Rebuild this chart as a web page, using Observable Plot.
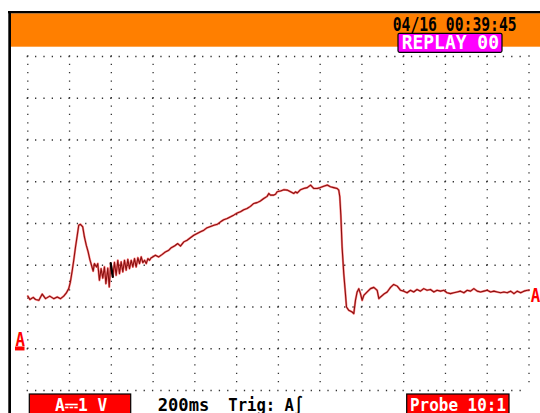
<!DOCTYPE html>
<html><head><meta charset="utf-8">
<script src="https://cdn.jsdelivr.net/npm/d3@7"></script>
<script src="https://cdn.jsdelivr.net/npm/@observablehq/plot@0.6"></script>
<style>html,body{margin:0;padding:0;background:#fff;overflow:hidden} svg{display:block}</style>
</head><body><div id="chart"></div>
<script>
// ---- Data (time in ms, voltage in V; 200 ms/div, 1 V/div) ----
const preT  = [0,10,26,37,53,69,85,105,124,141,157,172,185];
const preV  = [1.26,1.18,1.23,1.18,1.16,1.31,1.20,1.26,1.20,1.24,1.20,1.26,1.34];
const bumpT = [196,204,213,220,228,237,244,252,263,271,280,289,297,305,313];
const bumpV = [1.44,1.60,1.88,2.12,2.42,2.72,2.96,2.98,2.92,2.68,2.48,2.32,2.14,2.00,1.86];
const ringT = [319,329,335,343,351,359,367,374,383,390,397,407,415,423,431,439,447,455,463,471,479,487,495,503,511,519,527,535,543,551,559,567,575,583,591,599];
const ringV = [2.04,1.96,2.04,1.64,1.92,1.69,1.96,1.56,1.93,1.48,2.05,1.72,2.07,1.76,2.12,1.80,2.08,1.84,2.12,1.88,2.14,1.92,2.12,1.96,2.16,1.96,2.18,2.04,2.20,2.06,2.12,2.04,2.16,2.12,2.18,2.20];
const rampT = [611,627,644,659,675,687,702,718,731,747,763,779,795,811,827,843,859,875,891,907,923,938,955,971,986,1003,1018,1034,1050,1066,1082,1098,1114,1130,1146,1154,1162,1178,1186,1194,1210,1226,1242,1258,1274,1282,1290,1306,1321,1338,1354,1369,1386,1401,1417,1434,1449,1465,1481,1489];
const rampV = [2.24,2.20,2.26,2.32,2.36,2.42,2.46,2.52,2.46,2.56,2.60,2.66,2.72,2.76,2.80,2.84,2.90,2.93,2.96,2.98,3.04,3.09,3.12,3.16,3.20,3.25,3.28,3.33,3.36,3.41,3.48,3.50,3.54,3.60,3.65,3.72,3.68,3.68,3.70,3.76,3.78,3.81,3.80,3.76,3.72,3.76,3.73,3.81,3.84,3.86,3.92,3.84,3.84,3.86,3.89,3.92,3.88,3.86,3.84,3.80];
const dropT = [1494,1499,1505,1513,1521,1526,1537,1553,1561,1569,1577,1585,1593,1601,1609,1625,1641,1657,1673,1681,1689,1705,1721,1737,1752,1769,1785];
const dropV = [3.64,3.20,2.44,1.80,1.32,1.00,0.92,0.88,0.84,1.16,1.36,1.44,1.32,1.16,1.28,1.36,1.44,1.47,1.40,1.20,1.24,1.31,1.36,1.47,1.54,1.50,1.40];
const tailT = [1800,1816,1832,1848,1864,1880,1896,1912,1928,1944,1960,1976,1992,2008,2024,2040,2056,2072,2088,2104,2120,2136,2152,2168,2184,2200,2216,2232,2248,2264,2280,2296,2312,2328,2344,2360,2376,2392,2400];
const tailV = [1.38,1.34,1.40,1.36,1.42,1.38,1.44,1.40,1.42,1.36,1.40,1.38,1.40,1.34,1.32,1.34,1.36,1.38,1.34,1.40,1.38,1.44,1.38,1.36,1.38,1.40,1.36,1.38,1.36,1.34,1.36,1.34,1.38,1.32,1.38,1.34,1.38,1.40,1.40];
const triggerSpan = [397, 407];           // ms, trigger point drawn black
const timeTicks = [0,200,400,600,800,1000,1200,1400,1600,1800,2000,2200,2400];
const voltTicks = [-1,0,1,2,3,4,5,6,7];
const headerDate = "04/16 00:39:45";
const replayLabel = "REPLAY 00";
const rangeLabel = "A\u23931 V";
const timebaseLabel = "200ms";
const trigLabel = "Trig: A\u222B";
const probeLabel = "Probe 10:1";
const channelLabel = "A";

// ---- Build table ----
const segs = [[preT,preV],[bumpT,bumpV],[ringT,ringV],[rampT,rampV],[dropT,dropV],[tailT,tailV]];
const trace = segs.flatMap(([T,V]) => T.map((t,i) => ({t, v: V[i]})));
const trig = trace.filter(d => d.t >= triggerSpan[0] && d.t <= triggerSpan[1]);

const W = 540, H = 413;
const mL = 27.3, mR = 11.5, mT = 56, mB = 23;
const minorX = (W - mL - mR) / 60, minorY = (H - mT - mB) / 40;
const FONT = "DejaVu Sans Mono";

const chart = Plot.plot({
  width: W, height: H,
  marginLeft: mL, marginRight: mR, marginTop: mT, marginBottom: mB,
  x: {domain: [0, 2400], axis: null},
  y: {domain: [-1, 7], axis: null},
  style: {background: "white", overflow: "visible"},
  marks: [
    Plot.gridX(timeTicks, {stroke: "#333", strokeOpacity: 1, strokeWidth: 1.3, strokeDasharray: `0 ${minorY}`, strokeLinecap: "square"}),
    Plot.gridY(voltTicks, {stroke: "#333", strokeOpacity: 1, strokeWidth: 1.3, strokeDasharray: `0 ${minorX}`, strokeLinecap: "square"}),
    Plot.line(trace, {x: "t", y: "v", stroke: "#ff2020", strokeWidth: 2.2, strokeOpacity: 0.55}),
    Plot.line(trace, {x: "t", y: "v", stroke: "#8a1010", strokeWidth: 1.1}),
    Plot.line(trig, {x: "t", y: "v", stroke: "black", strokeWidth: 2.2}),
    Plot.text([trace[trace.length - 1]], {x: "t", y: "v", text: () => channelLabel, fill: "#ff0000", fontFamily: FONT, fontWeight: "bold", fontSize: 19, textAnchor: "start", lineAnchor: "bottom", dx: 1.8, dy: 11.5}),
    Plot.text([0], {y: d => d, frameAnchor: "left", text: () => channelLabel, fill: "#ff0000", fontFamily: FONT, fontWeight: "bold", fontSize: 19.5, textAnchor: "start", lineAnchor: "bottom", dx: -12.3, dy: -2.5})
  ]
});

document.getElementById("chart").appendChild(chart);
const svg = d3.select(chart);
// compress channel markers
svg.selectAll("text").filter(function(){ return this.textContent === channelLabel; })
  .attr("text-anchor", "start").attr("textLength", 9.5).attr("lengthAdjust", "spacingAndGlyphs");

// ground bar under left marker at 0 V
const y0 = chart.scale("y").apply(0);
svg.append("rect").attr("x", 15).attr("y", y0 - 1.8).attr("width", 9.5).attr("height", 4).attr("fill", "#ff0000");

// ---- Instrument chrome ----
const g = svg.append("g").attr("text-anchor", "start");
g.append("rect").attr("x", 11).attr("y", 13.3).attr("width", W - 11).attr("height", 33.4).attr("fill", "#ff7f00");
g.append("rect").attr("x", 8).attr("y", 11).attr("width", W - 8).attr("height", 2.3).attr("fill", "#000");
g.append("rect").attr("x", 8.3).attr("y", 11).attr("width", 2.7).attr("height", H - 11).attr("fill", "#000");

function label(txt, x, y, fs, len, fill) {
  g.append("text").attr("x", x).attr("y", y).text(txt)
    .attr("text-anchor", "start")
    .attr("font-family", FONT).attr("font-weight", "bold").attr("font-size", fs)
    .attr("fill", fill).attr("textLength", len).attr("lengthAdjust", "spacingAndGlyphs");
}
label(headerDate, 392.7, 31, 19.5, 124, "#000");
g.append("rect").attr("x", 398).attr("y", 33.3).attr("width", 104).attr("height", 19)
  .attr("rx", 1.5).attr("fill", "#ff00ff").attr("stroke", "#000").attr("stroke-width", 1.2);
label(replayLabel, 401.7, 49.3, 18.6, 97.3, "#fff");

g.append("rect").attr("x", 29.3).attr("y", 394).attr("width", 101.4).attr("height", 21)
  .attr("fill", "#ff0000").attr("stroke", "#000").attr("stroke-width", 1.2);
label(rangeLabel, 55, 410.7, 17, 52.3, "#fff");
label(timebaseLabel, 157.7, 410.7, 17, 51.6, "#000");
label(trigLabel, 228.3, 410.7, 17, 75, "#000");
g.append("rect").attr("x", 406.7).attr("y", 394).attr("width", 102.3).attr("height", 21)
  .attr("fill", "#ff0000").attr("stroke", "#000").attr("stroke-width", 1.2);
label(probeLabel, 410, 410.7, 17, 96, "#fff");
</script>
</body></html>
